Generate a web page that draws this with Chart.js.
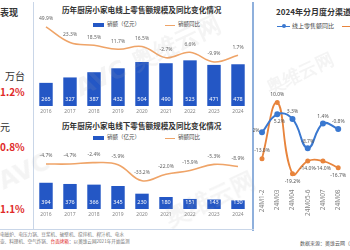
<!DOCTYPE html>
<html><head><meta charset="utf-8">
<script src="https://cdn.jsdelivr.net/npm/chart.js@4.4.1/dist/chart.umd.min.js"></script>
<style>
html,body{margin:0;padding:0;width:350px;height:250px;overflow:hidden;background:#fff;font-family:"Noto Sans CJK SC","Noto Sans",sans-serif;}
.abs{position:absolute;white-space:nowrap;line-height:1;}
canvas{position:absolute;}
.red{color:#e02a2a;font-weight:bold;}
.wm{position:absolute;white-space:nowrap;color:rgba(170,170,170,0.13);font-weight:bold;transform-origin:left top;pointer-events:none;font-family:"DejaVu Sans",sans-serif;}
</style></head><body>

<!-- panel borders -->
<div class="abs" style="left:33px;top:2px;width:1px;height:227px;background:#c9d6e8"></div>
<div class="abs" style="left:252px;top:2px;width:2px;height:229px;background:#8fb0dc"></div>
<div class="abs" style="left:0px;top:229px;width:254px;height:1px;background:#c9d6e8"></div>

<!-- left panel text -->
<div class="abs" style="left:0;top:8px;font-size:9px;font-weight:bold;color:#333">表现</div>
<div class="abs" style="left:5px;top:71px;font-size:10px;color:#333">万台</div>
<div class="abs red" style="left:0;top:87px;font-size:10px">1.2%</div>
<div class="abs" style="left:0;top:122px;font-size:10px;color:#333">元</div>
<div class="abs red" style="left:0;top:142px;font-size:10px">0.8%</div>
<div class="abs red" style="left:0;top:204px;font-size:10px">1.1%</div>

<!-- middle titles and legends -->
<div class="abs" style="left:62px;top:6px;font-size:7.6px;font-weight:bold;color:#333">历年厨房小家电线上零售额规模及同比变化情况</div>
<div class="abs" style="left:93px;top:23px;width:11px;height:4px;background:#2457c5"></div>
<div class="abs" style="left:107px;top:22px;font-size:5.5px;color:#444">销额（亿元）</div>
<div class="abs" style="left:165px;top:24.5px;width:10px;height:1.5px;background:#efa468"></div>
<div class="abs" style="left:178px;top:22px;font-size:5.5px;color:#444">销额同比</div>

<div class="abs" style="left:62px;top:122px;font-size:7.6px;font-weight:bold;color:#333">历年厨房小家电线下零售额规模及同比变化情况</div>
<div class="abs" style="left:93px;top:136px;width:11px;height:4px;background:#2457c5"></div>
<div class="abs" style="left:107px;top:135px;font-size:5.5px;color:#444">销额（亿元）</div>
<div class="abs" style="left:165px;top:137.5px;width:10px;height:1.5px;background:#efa468"></div>
<div class="abs" style="left:178px;top:135px;font-size:5.5px;color:#444">销额同比</div>

<!-- right title/legend -->
<div class="abs" style="left:276px;top:8px;font-size:8px;font-weight:bold;color:#333">2024年分月度分渠道零售额同比</div>
<div class="abs" style="left:277px;top:25.5px;width:13px;height:1.5px;background:#3a78d0"></div>
<div class="abs" style="left:281.5px;top:24.2px;width:4px;height:4px;border-radius:50%;background:#3a78d0"></div>
<div class="abs" style="left:292px;top:23px;font-size:6px;color:#444">线上零售额同比</div>
<div class="abs" style="left:342px;top:25.5px;width:13px;height:1.5px;background:#e8843c"></div>

<!-- footnotes -->
<div class="abs" style="left:0;top:232px;font-size:4.6px;color:#777">电磁炉、电压力锅、豆浆机、破壁机、搅拌机、榨汁机、电水</div>
<div class="abs" style="left:0;top:239px;font-size:4.6px;color:#777">壶、料理机、空气炸锅、<span style="color:#e02a2a">台面烤箱</span>：以奥维云网2021年开始监测</div>
<div class="abs" style="left:300px;top:240px;font-size:5px;color:#555">数据来源：奥维云网（AVC）</div>

<canvas id="c1" width="219" height="108" style="left:34px;top:10px"></canvas>
<canvas id="c2" width="219" height="78" style="left:34px;top:143px"></canvas>
<canvas id="c3" width="97" height="140" style="left:253px;top:80px"></canvas>

<!-- watermarks -->
<div class="wm" style="left:70px;top:75px;font-size:24px;transform:rotate(-25deg)">AVC 奥维云网</div>
<div class="wm" style="left:160px;top:205px;font-size:24px;transform:rotate(-25deg)">奥维云网</div>
<div class="wm" style="left:262px;top:78px;font-size:18px;transform:rotate(-25deg)">奥维云网</div>
<div class="wm" style="left:-6px;top:170px;font-size:24px;transform:rotate(-25deg)">AVC</div>

<script>
// ---------- data ----------
const years = ['2016','2017','2018','2019','2020','2021','2022','2023','2024'];
const onlineSales = [265,327,387,432,504,490,523,471,478];
const onlineYoY = [49.9,23.3,18.5,11.7,16.5,-2.7,6.6,-9.9,1.7];
const offlineSales = [394,376,366,345,230,180,151,143,130];
const offlineYoY = [-4.7,-4.7,-2.4,-5.9,-33.2,-22.0,-15.9,-5.3,-8.9];
const months = ['24M1-2','24M03','24M04','24M05-6','24M07','24M08'];
const onlineMonthly = [-2.2,5.2,3.3,-8.7,1.4,-0.8];
const offlineMonthly = [-13.0,10.0,-19.2,-14.0,-14.0,-16.7];

const BAR = '#2457c5', ORANGE = '#efa468', BLUE_L = '#3a78d0', ORANGE_R = '#e8843c';
const FONT = '"Noto Sans","DejaVu Sans",sans-serif';

const pct = v => v.toFixed(1) + '%';

const labelPlugin = {
  id: 'vlabels',
  afterDatasetsDraw(chart) {
    const ctx = chart.ctx;
    chart.data.datasets.forEach((ds, i) => {
      const cfg = ds.vlabel; if (!cfg) return;
      const meta = chart.getDatasetMeta(i);
      meta.data.forEach((el, j) => {
        const v = ds.data[j];
        ctx.save();
        ctx.font = cfg.font; ctx.fillStyle = cfg.color;
        ctx.textAlign = 'center'; ctx.textBaseline = 'middle';
        let x = el.x, y;
        if (cfg.mode === 'base') {
          y = el.base - cfg.offset;
        } else {
          const p = cfg.pos ? cfg.pos[j] : 'top';
          if (p === 'top') y = el.y - cfg.offset;
          else if (p === 'bottom') y = el.y + cfg.offset;
          else if (p === 'left') { y = el.y - 2; x = el.x - 9; }
          else if (p === 'bottomright') { y = el.y + cfg.offset; x = el.x + 2; }
        }
        ctx.fillText(cfg.fmt(v), x, y);
        ctx.restore();
      });
    });
  }
};

function xAxis(size) {
  return {
    grid: { display: false, drawTicks: false }, border: { display: false },
    ticks: { color: '#888', font: { size: size, family: FONT }, padding: 3, autoSkip: false, maxRotation: 0 }
  };
}
function hidden(min, max) {
  return { display: false, min: min, max: max };
}

function comboChart(id, sales, yoy, barMax, pMin, pMax, padTop) {
  return new Chart(document.getElementById(id), {
    data: {
      labels: years,
      datasets: [
        { type: 'line', data: yoy, yAxisID: 'y2', borderColor: ORANGE, borderWidth: 1.6,
          pointRadius: 0, tension: 0.4, order: 0,
          vlabel: { font: '5px ' + FONT, color: '#666', offset: 8, fmt: pct } },
        { type: 'bar', data: sales, yAxisID: 'y', backgroundColor: BAR,
          categoryPercentage: 1, barPercentage: 0.56, order: 1,
          vlabel: { mode: 'base', font: '5.5px ' + FONT, color: '#fff', offset: 7, fmt: v => String(v) } }
      ]
    },
    options: {
      responsive: false, animation: false, maintainAspectRatio: false,
      layout: { padding: { top: padTop, right: 3, left: 0, bottom: 0 } },
      plugins: { legend: { display: false }, tooltip: { enabled: false } },
      scales: { x: xAxis(5), y: hidden(0, barMax), y2: hidden(pMin, pMax) }
    },
    plugins: [labelPlugin]
  });
}

comboChart('c1', onlineSales, onlineYoY, 985, -85, 61.7, 10);
comboChart('c2', offlineSales, offlineYoY, 886, -81, 19, 7);

new Chart(document.getElementById('c3'), {
  type: 'line',
  data: {
    labels: months,
    datasets: [
      { data: onlineMonthly, borderColor: BLUE_L, backgroundColor: BLUE_L, borderWidth: 2,
        pointRadius: 2, tension: 0.45,
        vlabel: { font: '5px ' + FONT, color: '#555', offset: 7, fmt: pct,
                  pos: ['left', 'bottomright', 'top', 'top', 'top', 'top'] } },
      { data: offlineMonthly, borderColor: ORANGE_R, backgroundColor: ORANGE_R, borderWidth: 1.8,
        pointRadius: 1.6, tension: 0.45,
        vlabel: { font: '5px ' + FONT, color: '#555', offset: 8, fmt: pct,
                  pos: ['top', 'top', 'bottom', 'bottom', 'bottom', 'bottom'] } }
    ]
  },
  options: {
    responsive: false, animation: false, maintainAspectRatio: false,
    layout: { padding: { top: 8, left: 9, right: 9, bottom: 0 } },
    plugins: { legend: { display: false }, tooltip: { enabled: false } },
    scales: {
      x: { grid: { display: false, drawTicks: false }, border: { display: false },
           ticks: { color: '#888', font: { size: 6.5, family: FONT }, padding: 4, autoSkip: false,
                    minRotation: 90, maxRotation: 90 } },
      y: { display: false, min: -24, max: 16 }
    }
  },
  plugins: [labelPlugin]
});
</script>
</body></html>
